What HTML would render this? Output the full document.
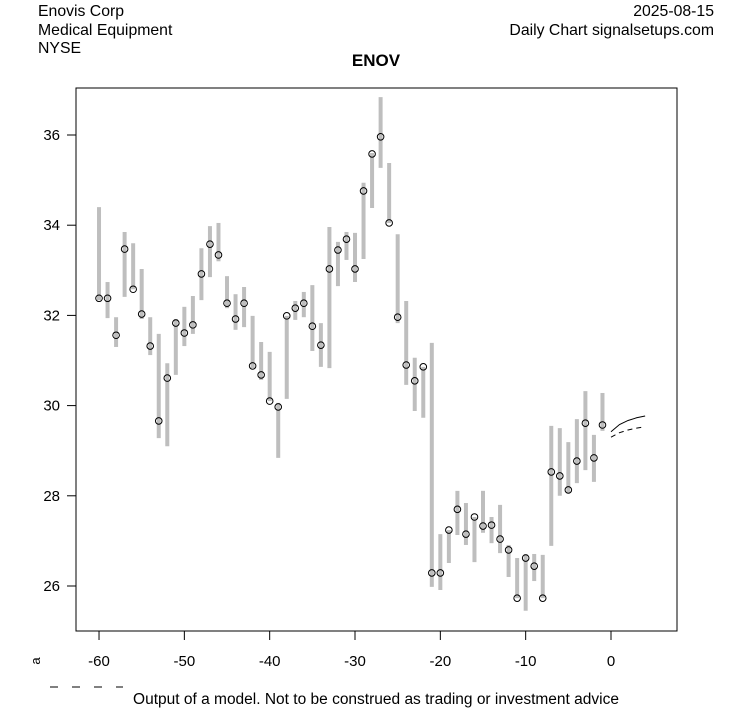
<!DOCTYPE html>
<html><head><meta charset="utf-8"><style>
body{margin:0;background:#fff;}
svg text{font-family:"Liberation Sans",Arial,sans-serif;}
</style></head><body>
<svg id="chart" width="753" height="708" xmlns="http://www.w3.org/2000/svg">
<rect width="753" height="708" fill="#fff"/>
<text x="38" y="16" font-size="15.8">Enovis Corp</text>
<text x="38" y="35" font-size="15.8">Medical Equipment</text>
<text x="38" y="53" font-size="15.8">NYSE</text>
<text x="714" y="16" font-size="15.8" text-anchor="end">2025-08-15</text>
<text x="714" y="35" font-size="15.8" text-anchor="end">Daily Chart signalsetups.com</text>
<text x="376" y="66" font-size="17" font-weight="bold" text-anchor="middle">ENOV</text>
<rect x="76" y="88" width="601" height="543" fill="none" stroke="#000" stroke-width="1"/>
<g id="axes"></g>
<g id="bars"></g>
<g id="fc"></g>
<text x="36" y="661" font-size="13" transform="rotate(-90 36 661)" text-anchor="middle" dy="4">a</text>
<line x1="50" y1="687" x2="123" y2="687" stroke="#000" stroke-dasharray="8,14"/>
<text x="376" y="704" font-size="15.5" text-anchor="middle">Output of a model. Not to be construed as trading or investment advice</text>
</svg>
<script>
const days=[-60,-59,-58,-57,-56,-55,-54,-53,-52,-51,-50,-49,-48,-47,-46,-45,-44,-43,-42,-41,-40,-39,-38,-37,-36,-35,-34,-33,-32,-31,-30,-29,-28,-27,-26,-25,-24,-23,-22,-21,-20,-19,-18,-17,-16,-15,-14,-13,-12,-11,-10,-9,-8,-7,-6,-5,-4,-3,-2,-1];
const highs=[34.4,32.74,31.96,33.85,33.6,33.03,31.96,31.59,30.94,31.92,32.19,32.43,33.49,33.98,34.05,32.87,32.47,32.63,31.99,31.41,31.19,30.06,31.99,32.32,32.52,32.67,31.83,33.96,33.63,33.85,33.83,34.94,35.6,36.84,35.38,33.8,32.32,31.06,30.86,31.39,27.15,27.24,28.11,27.84,27.53,28.11,27.53,27.8,26.91,26.62,26.71,26.71,26.69,29.55,29.5,29.19,29.7,30.32,29.35,30.28];
const lows=[32.34,31.94,31.3,32.41,32.58,31.92,31.12,29.28,29.1,30.68,31.32,31.59,32.34,32.85,33.2,32.16,31.68,31.74,30.83,30.57,30.1,28.84,30.15,31.9,31.96,31.21,30.86,30.83,32.65,33.23,32.74,33.25,34.38,35.27,34.05,31.83,30.46,29.88,29.73,25.98,25.91,26.51,27.13,26.91,26.53,27.18,26.95,26.73,26.2,25.73,25.45,26.11,25.73,26.89,28.0,28.06,28.28,28.57,28.31,29.44];
const closes=[32.38,32.38,31.56,33.47,32.58,32.03,31.32,29.66,30.61,31.83,31.61,31.79,32.92,33.58,33.34,32.27,31.92,32.27,30.88,30.68,30.1,29.97,31.99,32.16,32.27,31.76,31.34,33.03,33.45,33.69,33.03,34.76,35.58,35.96,34.05,31.96,30.9,30.55,30.86,26.29,26.29,27.24,27.7,27.15,27.53,27.33,27.35,27.04,26.8,25.73,26.62,26.44,25.73,28.53,28.44,28.13,28.77,29.61,28.84,29.57];
const fcDays=[0,1,2,3,4];
const fcUpper=[29.42,29.58,29.67,29.73,29.77];
const fcLower=[29.3,29.4,29.46,29.5,29.53];
const xTicks=[-60,-50,-40,-30,-20,-10,0];
const yTicks=[26,28,30,32,34,36];

const NS='http://www.w3.org/2000/svg';
function X(d){return 611+d*8.533;}
function Y(v){return 586-(v-26)*45.1;}
function mk(tag,attrs,parent){const e=document.createElementNS(NS,tag);for(const k in attrs)e.setAttribute(k,attrs[k]);parent.appendChild(e);return e;}
const axes=document.getElementById('axes');
xTicks.forEach(t=>{
  const l=mk('line',{x1:X(t),x2:X(t),y1:631,y2:640,stroke:'#000'},axes);
  
  
  const tx=mk('text',{x:X(t),y:666,'font-size':15,'text-anchor':'middle'},axes);
  tx.textContent=t;
  
  
});
yTicks.forEach(t=>{
  const l=mk('line',{x1:67,x2:76,y1:Y(t),y2:Y(t),stroke:'#000'},axes);
  
  
  const tx=mk('text',{x:60,y:Y(t)+5,'font-size':15,'text-anchor':'end'},axes);
  tx.textContent=t;
  
  
});
const bars=document.getElementById('bars');
days.forEach((d,i)=>{
  const b=mk('line',{x1:X(d),x2:X(d),y1:Y(highs[i]),y2:Y(lows[i]),stroke:'#bebebe','stroke-width':4},bars);
  
  
});
days.forEach((d,i)=>{
  const c=mk('circle',{cx:X(d),cy:Y(closes[i]),r:3.3,fill:'none',stroke:'#000','stroke-width':1},bars);
  
  
});
const fc=document.getElementById('fc');
function pts(arr){return fcDays.map((d,i)=>X(d)+','+Y(arr[i])).join(' ');}
const up=mk('polyline',{points:pts(fcUpper),fill:'none',stroke:'#000','stroke-width':1},fc);


const lo=mk('polyline',{points:pts(fcLower),fill:'none',stroke:'#000','stroke-width':1,'stroke-dasharray':'5,4'},fc);


</script>
</body></html>
